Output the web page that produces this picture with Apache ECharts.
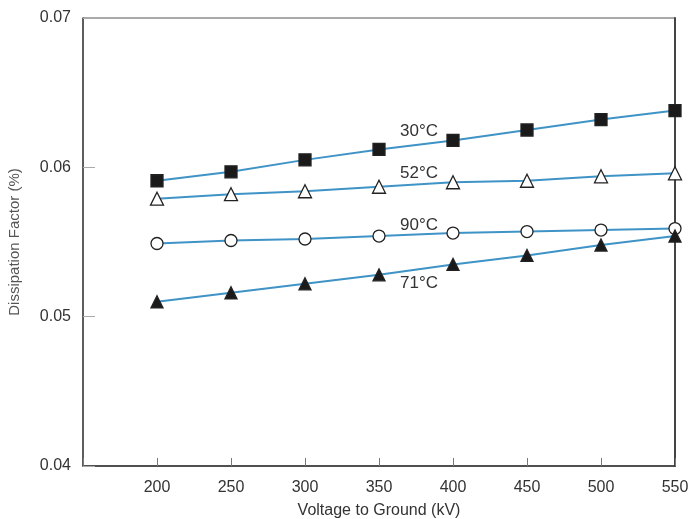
<!DOCTYPE html>
<html><head><meta charset="utf-8">
<script src="https://cdn.jsdelivr.net/npm/echarts@6/dist/echarts.min.js"></script>
<style>html,body{margin:0;padding:0;background:#fff}#c{width:692px;height:519px}</style>
</head><body><div id="c"></div>
<script>
const voltages = [200, 250, 300, 350, 400, 450, 500, 550];
const df30 = [0.0591, 0.0597, 0.0605, 0.0612, 0.0618, 0.0625, 0.0632, 0.0638];
const df52 = [0.0579, 0.0582, 0.0584, 0.0587, 0.0590, 0.0591, 0.0594, 0.0596];
const df90 = [0.0549, 0.0551, 0.0552, 0.0554, 0.0556, 0.0557, 0.0558, 0.0559];
const df71 = [0.0510, 0.0516, 0.0522, 0.0528, 0.0535, 0.0541, 0.0548, 0.0554];
const seriesNames = ['30°C', '52°C', '90°C', '71°C'];
const labelPos = [[377, 0.06243], [377, 0.05961], [377, 0.05613], [377, 0.05224]];

const lineColor = '#3f93c6';
const font = 'Liberation Sans, Arial, sans-serif';
function mk(name, vals, symbol, size, fill, lp) {
  return {
    name: name, type: 'line',
    data: voltages.map((v, i) => [v, vals[i]]),
    symbol: symbol, symbolSize: size, showAllSymbol: true,
    lineStyle: { color: lineColor, width: 2 },
    itemStyle: { color: fill, borderColor: '#222', borderWidth: 1.3 },
    z: 3,
    markPoint: {
      symbol: 'circle', symbolSize: 0,
      data: [{ coord: lp, value: name }],
      label: { show: true, formatter: name, color: '#333', fontSize: 17, fontFamily: font, position: 'inside' },
      silent: true
    }
  };
}
const chart = echarts.init(document.getElementById('c'), null, { renderer: 'canvas' });
chart.setOption({
  animation: false,
  backgroundColor: '#fff',
  grid: { left: 83, right: 17, top: 18, bottom: 53, show: true, borderColor: '#555', borderWidth: 1,
          containLabel: false, outerBoundsMode: 'none' },
  xAxis: [{
    type: 'value', min: 150, max: 550, interval: 50,
    name: 'Voltage to Ground (kV)', nameLocation: 'middle', nameGap: 37,
    nameTextStyle: { fontSize: 16, color: '#333', fontFamily: font },
    axisLine: { show: true, lineStyle: { color: '#333', width: 1.5 } },
    axisTick: { show: true, inside: true, length: 8, lineStyle: { color: '#777' } },
    axisLabel: { fontSize: 16, color: '#333', fontFamily: font, margin: 14,
      formatter: v => v === 150 ? '' : String(v) },
    splitLine: { show: false }
  }],
  yAxis: [{
    type: 'value', min: 0.04, max: 0.07, interval: 0.01,
    name: 'Dissipation Factor (%)', nameLocation: 'middle', nameGap: 61,
    nameTextStyle: { fontSize: 15, color: '#555', fontFamily: font },
    axisLine: { show: true, lineStyle: { color: '#444', width: 1.5 } },
    axisTick: { show: true, inside: true, length: 12, lineStyle: { color: '#aaa' } },
    axisLabel: { fontSize: 16, color: '#333', fontFamily: font, margin: 12,
      formatter: v => v.toFixed(2) },
    splitLine: { show: false }
  }, {
    type: 'value', min: 0.04, max: 0.07, position: 'right',
    axisLine: { show: true, lineStyle: { color: '#444', width: 2 } },
    axisTick: { show: false }, axisLabel: { show: false }, splitLine: { show: false }
  }],
  series: [
    mk(seriesNames[0], df30, 'rect', 12, '#1a1a1a', labelPos[0]),
    mk(seriesNames[1], df52, 'triangle', 13, '#fff', labelPos[1]),
    mk(seriesNames[2], df90, 'circle', 12, '#fff', labelPos[2]),
    mk(seriesNames[3], df71, 'triangle', 12, '#1a1a1a', labelPos[3])
  ]
});
</script></body></html>
